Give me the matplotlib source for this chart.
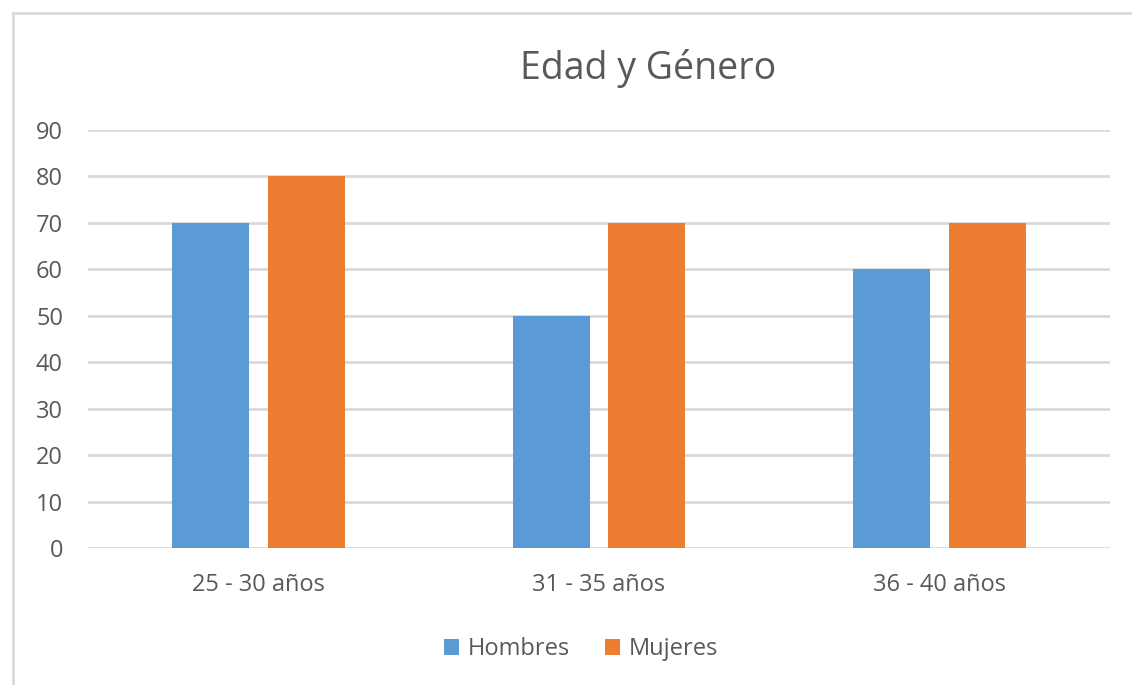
import matplotlib.pyplot as plt
import numpy as np
from matplotlib.lines import Line2D

# datos
categorias = ['25 - 30 años', '31 - 35 años', '36 - 40 años']
hombres = [70, 50, 60]
mujeres = [80, 70, 70]
ticks_y = [0, 10, 20, 30, 40, 50, 60, 70, 80, 90]

azul = '#5b9bd5'
naranja = '#ed7d31'
gris_txt = '#595959'
gris_lin = '#d9d9d9'

plt.rcParams['font.family'] = ['Open Sans', 'DejaVu Sans']

fig = plt.figure(figsize=(11.32, 6.85), dpi=100)
ax = fig.add_axes([88/1132, 1-548/685, (1110-88)/1132, (548-130)/685])

x = np.arange(len(categorias))
w = 0.226
ax.bar(x - 0.14, hombres, w, color=azul, label='Hombres', zorder=3)
ax.bar(x + 0.14, mujeres, w, color=naranja, label='Mujeres', zorder=3)

ax.set_xlim(-0.5, 2.5)
ax.set_ylim(0, 90)
ax.set_yticks(ticks_y)
ax.set_xticks(x)
ax.set_xticklabels(categorias)
ax.yaxis.grid(True, color=gris_lin, linewidth=2, zorder=0)
ax.tick_params(axis='both', length=0, labelsize=17, colors=gris_txt)
ax.tick_params(axis='y', pad=18)
ax.tick_params(axis='x', pad=18)
for s in ax.spines.values():
    s.set_visible(False)

fig.text(648/1132, 1-68/685, 'Edad y Género', ha='center', va='center',
         fontsize=27, color=gris_txt)

leg = fig.legend(loc='center', bbox_to_anchor=(581/1132, 1-649/685), ncol=2,
                 frameon=False, fontsize=17, labelcolor=gris_txt,
                 handlelength=0.65, handleheight=0.65, columnspacing=1.5,
                 handletextpad=0.35)

# borde del grafico
fig.add_artist(Line2D([13/1132, 13/1132], [0, 1-13/685], color=gris_lin, lw=2,
                      transform=fig.transFigure))
fig.add_artist(Line2D([13/1132, 1], [1-13/685, 1-13/685], color=gris_lin, lw=2,
                      transform=fig.transFigure))

fig.savefig('out.png', dpi=100, facecolor='white')
